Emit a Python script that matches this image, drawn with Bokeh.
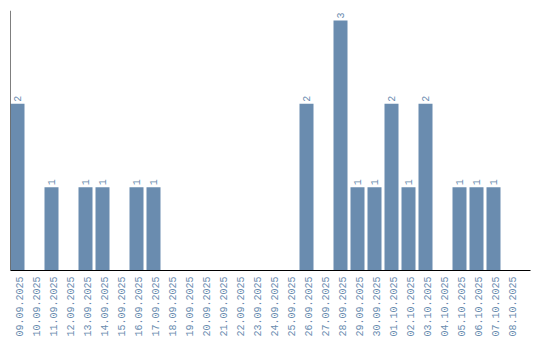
import math
from bokeh.plotting import figure
from bokeh.models import Range1d, FixedTicker, Span, ColumnDataSource
from bokeh.core.properties import value
from bokeh.embed import file_html
from bokeh.resources import INLINE

dates = ["09.09.2025", "10.09.2025", "11.09.2025", "12.09.2025", "13.09.2025",
         "14.09.2025", "15.09.2025", "16.09.2025", "17.09.2025", "18.09.2025",
         "19.09.2025", "20.09.2025", "21.09.2025", "22.09.2025", "23.09.2025",
         "24.09.2025", "25.09.2025", "26.09.2025", "27.09.2025", "28.09.2025",
         "29.09.2025", "30.09.2025", "01.10.2025", "02.10.2025", "03.10.2025",
         "04.10.2025", "05.10.2025", "06.10.2025", "07.10.2025", "08.10.2025"]
counts = [2, 0, 1, 0, 1, 1, 0, 1, 1, 0,
          0, 0, 0, 0, 0, 0, 0, 2, 0, 3,
          1, 1, 2, 1, 2, 0, 1, 1, 1, 0]

BAR = "#6a8caf"
FONT = "Liberation Mono"

n = len(dates)
centers = [i + 7 / 17 for i in range(n)]
ticks = [i + 0.5 for i in range(n)]

p = figure(width=540, height=340, output_backend="svg", toolbar_location=None,
           x_range=Range1d(0, 520 / 17), y_range=Range1d(0, 3.12),
           min_border_left=10, min_border_right=10, min_border_top=10,
           min_border_bottom=70)
p.outline_line_color = None
p.grid.visible = False
p.background_fill_color = "white"
p.border_fill_color = "white"

src = ColumnDataSource(dict(x=centers, top=counts))
p.vbar(x="x", top="top", width=14 / 17, bottom=0, source=src,
       fill_color=BAR, line_color=None)

lx = [c for c, v in zip(centers, counts) if v > 0]
ly = [v for v in counts if v > 0]
lt = [str(v) for v in counts if v > 0]
p.text(x=lx, y=ly, text=lt, angle=math.pi / 2, text_align="left",
       text_baseline="middle", x_offset=0, y_offset=-2,
       text_font=value(FONT), text_font_size="10px", text_color=BAR)

p.yaxis.visible = False
p.add_layout(Span(location=0, dimension="height", line_color="black", line_width=1))

xa = p.xaxis[0]
xa.ticker = FixedTicker(ticks=ticks)
xa.major_label_overrides = {t: d for t, d in zip(ticks, dates)}
xa.major_label_orientation = math.pi / 2
xa.major_tick_line_color = None
xa.minor_tick_line_color = None
xa.major_tick_out = 0
xa.major_tick_in = 0
xa.axis_line_color = "black"
xa.major_label_text_font = FONT
xa.major_label_text_font_size = "10px"
xa.major_label_text_color = BAR
xa.major_label_standoff = 6

open("out.html", "w").write(file_html(p, INLINE))
